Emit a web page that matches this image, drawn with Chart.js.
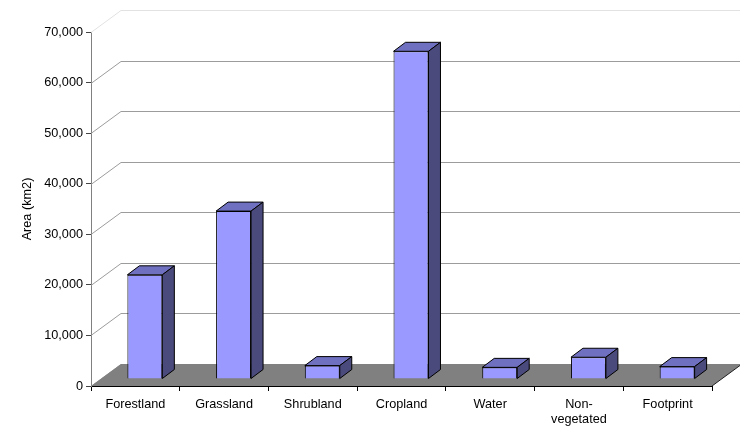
<!DOCTYPE html>
<html>
<head>
<meta charset="utf-8">
<script src="https://cdn.jsdelivr.net/npm/chart.js@4"></script>
<style>
  html, body { margin: 0; padding: 0; background: #fff; }
</style>
</head>
<body>
<canvas id="areaChart" width="740" height="428"></canvas>
<script>
const categories = ['Forestland', 'Grassland', 'Shrubland', 'Cropland', 'Water', ['Non-', 'vegetated'], 'Footprint'];
const areaKm2 = [20600, 33200, 2650, 64800, 2300, 4300, 2450];
const yTicks = [0, 10000, 20000, 30000, 40000, 50000, 60000, 70000];

// depth of the back wall, of the bar's position and of the bar itself
const WALL_DX = 30, WALL_DY = 22;
const BAR_DX = 9.5, BAR_DY = 7;
const SIDE_DX = 12, SIDE_DY = 9;

const threeD = {
  id: 'threeD',
  beforeDatasetsDraw(chart) {
    const { ctx, chartArea: a, scales: { y } } = chart;
    ctx.save();
    ctx.lineWidth = 1;
    yTicks.forEach(v => {
      const py = Math.round(y.getPixelForValue(v)) + 0.5;
      ctx.strokeStyle = v === yTicks[yTicks.length - 1] ? '#e2e2e2' : '#9c9c9c';
      ctx.beginPath();
      ctx.moveTo(a.left, py);
      ctx.lineTo(a.left + WALL_DX, py - WALL_DY);
      ctx.lineTo(a.right + WALL_DX, py - WALL_DY);
      ctx.stroke();
    });
    const y0 = y.getPixelForValue(0);
    ctx.fillStyle = '#808080';
    ctx.beginPath();
    ctx.moveTo(a.left, y0);
    ctx.lineTo(a.right, y0);
    ctx.lineTo(a.right + WALL_DX, y0 - WALL_DY);
    ctx.lineTo(a.left + WALL_DX, y0 - WALL_DY);
    ctx.closePath();
    ctx.fill();
    ctx.strokeStyle = '#222';
    ctx.beginPath();
    ctx.moveTo(a.right, y0);
    ctx.lineTo(a.right + WALL_DX, y0 - WALL_DY);
    ctx.stroke();
    ctx.restore();

    // bars stand a little way back on the floor
    ctx.save();
    ctx.translate(BAR_DX, -BAR_DY);
  },
  afterDatasetsDraw(chart) {
    const { ctx } = chart;
    const meta = chart.getDatasetMeta(0);
    ctx.lineWidth = 1;
    ctx.strokeStyle = '#000';
    meta.data.forEach(bar => {
      const { x, y, base, width } = bar.getProps(['x', 'y', 'base', 'width'], true);
      const l = x - width / 2, r = x + width / 2;
      // top
      ctx.fillStyle = '#7070c0';
      ctx.beginPath();
      ctx.moveTo(l, y);
      ctx.lineTo(l + SIDE_DX, y - SIDE_DY);
      ctx.lineTo(r + SIDE_DX, y - SIDE_DY);
      ctx.lineTo(r, y);
      ctx.closePath();
      ctx.fill();
      ctx.stroke();
      // side
      ctx.fillStyle = '#4a4a7c';
      ctx.beginPath();
      ctx.moveTo(r, y);
      ctx.lineTo(r + SIDE_DX, y - SIDE_DY);
      ctx.lineTo(r + SIDE_DX, base - SIDE_DY);
      ctx.lineTo(r, base);
      ctx.closePath();
      ctx.fill();
      ctx.stroke();
    });
    ctx.restore();
  }
};

const font = { family: 'Liberation Sans, Arial, sans-serif', size: 12.7 };

new Chart(document.getElementById('areaChart'), {
  type: 'bar',
  data: {
    labels: categories,
    datasets: [{
      label: 'Area (km2)',
      data: areaKm2,
      backgroundColor: '#9999ff',
      borderColor: '#000',
      borderWidth: 1,
      categoryPercentage: 1,
      barPercentage: 0.394
    }]
  },
  options: {
    responsive: false,
    animation: false,
    devicePixelRatio: 1,
    layout: { padding: { left: 16, right: 28, top: 32, bottom: 0 } },
    plugins: { legend: { display: false }, tooltip: { enabled: false } },
    scales: {
      x: {
        grid: { drawOnChartArea: false, tickLength: 5, color: '#000' },
        border: { color: '#000' },
        ticks: { color: '#000', font: font, maxRotation: 0, autoSkip: false, padding: 6 },
        afterFit: s => { s.height = 42; }
      },
      y: {
        min: 0,
        max: 70000,
        afterBuildTicks: s => { s.ticks = yTicks.map(v => ({ value: v })); },
        grid: { drawOnChartArea: false, tickLength: 5, color: '#444' },
        border: { color: '#808080' },
        ticks: {
          color: '#000', font: font, padding: 3,
          callback: v => v.toLocaleString('en-US')
        },
        title: { display: true, text: 'Area (km2)', color: '#000', font: font },
        afterFit: s => { s.width = 75; }
      }
    }
  },
  plugins: [threeD]
});
</script>
</body>
</html>
